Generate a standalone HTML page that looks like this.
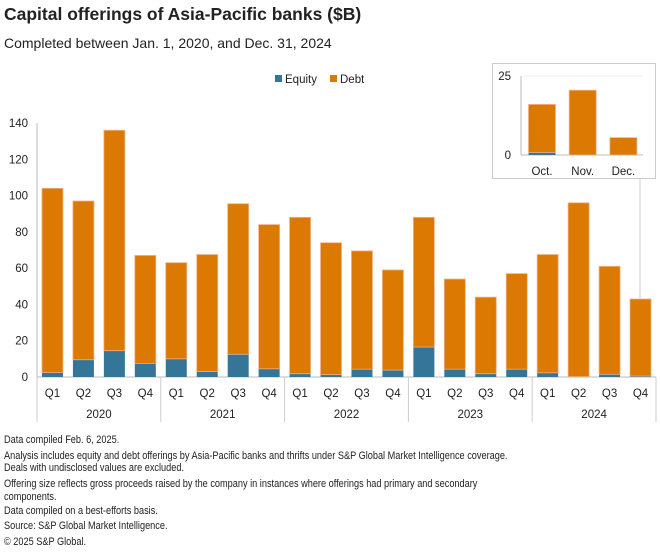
<!DOCTYPE html>
<html><head><meta charset="utf-8"><style>
body{margin:0;width:660px;height:560px;background:#fff;font-family:"Liberation Sans",sans-serif;color:#222;overflow:hidden}
.t{position:absolute;left:4px;top:4px;font-size:17.5px;font-weight:bold}
.s{position:absolute;left:4px;top:35px;font-size:14px}
.n{position:absolute;left:4px;font-size:11.2px;line-height:13px;white-space:nowrap;transform:scaleX(0.82);transform-origin:0 0}
svg{position:absolute;left:0;top:0}
</style></head><body>
<div class="t">Capital offerings of Asia-Pacific banks ($B)</div>
<div class="s">Completed between Jan. 1, 2020, and Dec. 31, 2024</div>
<svg id="c" width="660" height="560"></svg>
<div class="n" style="top:434px">Data compiled Feb. 6, 2025.</div>
<div class="n" style="top:450px">Analysis includes equity and debt offerings by Asia-Pacific banks and thrifts under S&amp;P Global Market Intelligence coverage.</div>
<div class="n" style="top:462px">Deals with undisclosed values are excluded.</div>
<div class="n" style="top:478px">Offering size reflects gross proceeds raised by the company in instances where offerings had primary and secondary<br>components.</div>
<div class="n" style="top:505px">Data compiled on a best-efforts basis.</div>
<div class="n" style="top:520px">Source: S&amp;P Global Market Intelligence.</div>
<div class="n" style="top:536px">© 2025 S&amp;P Global.</div>
<script>
const quarters=["Q1","Q2","Q3","Q4"];
const years=["2020","2021","2022","2023","2024"];
const equity=[2.5,9.5,14.5,7.5,10,3,12.5,4.5,1.8,1.3,4.3,3.8,16.5,4.3,1.8,4.3,2.3,0.2,1.5,0.5];
const debt=[101.5,87.5,121.5,59.5,53,64.5,83,79.5,86.2,72.7,65.2,55.2,71.5,49.7,42.2,52.7,65.2,95.8,59.5,42.5];
const yTicks=[0,20,40,60,80,100,120,140];
const months=["Oct.","Nov.","Dec."];
const mEquity=[0.8,0,0];
const mDebt=[15.2,20.5,5.5];
const mTicks=[0,25];
const svg=document.getElementById('c');
const NS='http://www.w3.org/2000/svg';
function mk(tag,attrs,parent){const e=document.createElementNS(NS,tag);for(const k in attrs)e.setAttribute(k,attrs[k]);(parent||svg).appendChild(e);return e;}
const EQ='#357597',DB='#dc7902';
const x0=37,x1=656,slot=(x1-x0)/20,bw=21;
const y=v=>377-v*254/140;
const xc=i=>x0+slot*(i+0.5);
let e=mk('line',{x1:x0,y1:123,x2:x0,y2:377,stroke:'#bbb'});

yTicks.forEach(v=>{const t=mk('text',{x:28,y:y(v)+4,'text-anchor':'end','font-size':11.5,fill:'#222'});t.textContent=v;
});
e=mk('line',{x1:x0,y1:377,x2:x1,y2:377,stroke:'#bbb'});

for(let g=0;g<=5;g++){const gx=x0+slot*4*g;const l=mk('line',{x1:gx,y1:377,x2:gx,y2:422,stroke:'#ccc'});
}
years.forEach((yr,g)=>{const t=mk('text',{x:x0+slot*(4*g+2),y:418,'text-anchor':'middle','font-size':11.5,fill:'#222'});t.textContent=yr;
});
equity.forEach((eq,i)=>{
 const cx=xc(i);
 const r1=mk('rect',{x:cx-bw/2,y:y(eq),width:bw,height:y(0)-y(eq),fill:EQ});
 
 const tot=eq+debt[i];
 const r2=mk('rect',{x:cx-bw/2,y:y(tot),width:bw,height:y(eq)-y(tot),fill:DB,stroke:'#f0b08a','stroke-width':0.8});
 
 const t=mk('text',{x:cx,y:397,'text-anchor':'middle','font-size':11.5,fill:'#222'});t.textContent=quarters[i%4];
 
});
e=mk('rect',{x:275,y:75,width:7,height:7,fill:EQ});
e=mk('text',{x:285,y:83,'font-size':11.5,fill:'#222'});e.textContent='Equity';
e=mk('rect',{x:330,y:75,width:7,height:7,fill:DB});
e=mk('text',{x:340,y:83,'font-size':11.5,fill:'#222'});e.textContent='Debt';
const tot19=equity[19]+debt[19];
e=mk('line',{x1:640,y1:179,x2:640,y2:y(tot19),stroke:'#ddd','stroke-width':1.5});

e=mk('rect',{x:492.5,y:63.5,width:163,height:115,fill:'#fff',stroke:'#ccc'});

const iy=v=>155-v*79/25;
e=mk('line',{x1:521,y1:76,x2:521,y2:155,stroke:'#bbb'});
e=mk('line',{x1:521,y1:155,x2:643,y2:155,stroke:'#bbb'});
e=mk('line',{x1:521,y1:76,x2:643,y2:76,stroke:'#eee'});
mTicks.forEach(v=>{const t=mk('text',{x:511,y:iy(v)+4,'text-anchor':'end','font-size':11.5,fill:'#222'});t.textContent=v;
});
months.forEach((m,i)=>{
 const cx=542+i*40.7,w=27;
 const r1=mk('rect',{x:cx-w/2,y:iy(mEquity[i]),width:w,height:iy(0)-iy(mEquity[i]),fill:EQ});
 
 const tt=mEquity[i]+mDebt[i];
 const r2=mk('rect',{x:cx-w/2,y:iy(tt),width:w,height:iy(mEquity[i])-iy(tt),fill:DB,stroke:'#f0b08a','stroke-width':0.8});
 
 const t=mk('text',{x:cx,y:175,'text-anchor':'middle','font-size':11.5,fill:'#222'});t.textContent=m;
 
});
</script>
</body></html>
